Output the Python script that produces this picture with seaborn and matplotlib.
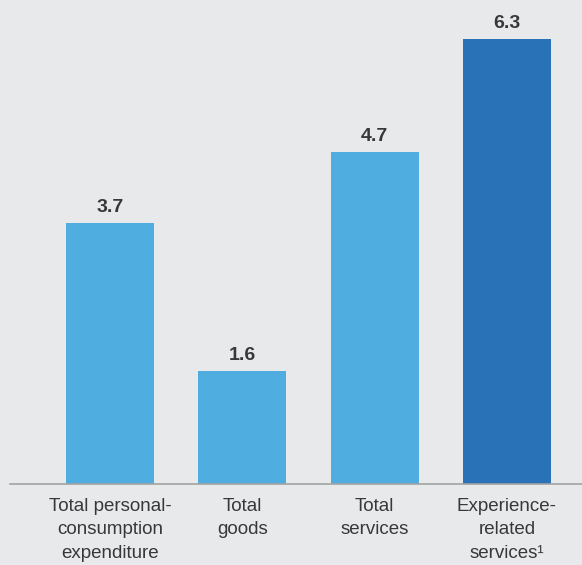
import matplotlib
matplotlib.use("Agg")
import matplotlib.pyplot as plt
import seaborn as sns
import pandas as pd

categories = ["Total personal-\nconsumption\nexpenditure", "Total\ngoods",
              "Total\nservices", "Experience-\nrelated\nservices\u00b9"]
values = [3.7, 1.6, 4.7, 6.3]
colors = ["#4FADE0", "#4FADE0", "#4FADE0", "#2A72B8"]

BG = "#E8E9EB"
TEXT = "#383838"

sns.set_theme(style="white")
plt.rcParams["font.family"] = ["Liberation Sans", "DejaVu Sans"]

df = pd.DataFrame({"cat": categories, "val": values})

fig = plt.figure(figsize=(5.82, 5.65), dpi=100, facecolor=BG)
ax = fig.add_axes([10 / 582, 81 / 565, 572 / 582, 484 / 565])
ax.set_facecolor(BG)

sns.barplot(ax=ax, data=df, x="cat", y="val", hue="cat", palette=colors,
            width=0.665, saturation=1, legend=False, linewidth=0)

for c in ax.containers:
    ax.bar_label(c, fmt="%.1f", padding=5, fontsize=14, fontweight="bold", color=TEXT)

ax.set_xlim(-0.756, 3.567)
ax.set_ylim(0, 6.855)
ax.set_xlabel("")
ax.set_ylabel("")
ax.set_yticks([])
for s in ["left", "right", "top"]:
    ax.spines[s].set_visible(False)
ax.spines["bottom"].set_color("#A3A3A3")
ax.spines["bottom"].set_linewidth(1.2)
ax.tick_params(axis="x", length=0, pad=10, labelsize=13.5, colors=TEXT)
for t in ax.get_xticklabels():
    t.set_linespacing(1.5)

fig.savefig("out.png", dpi=100, facecolor=BG)
